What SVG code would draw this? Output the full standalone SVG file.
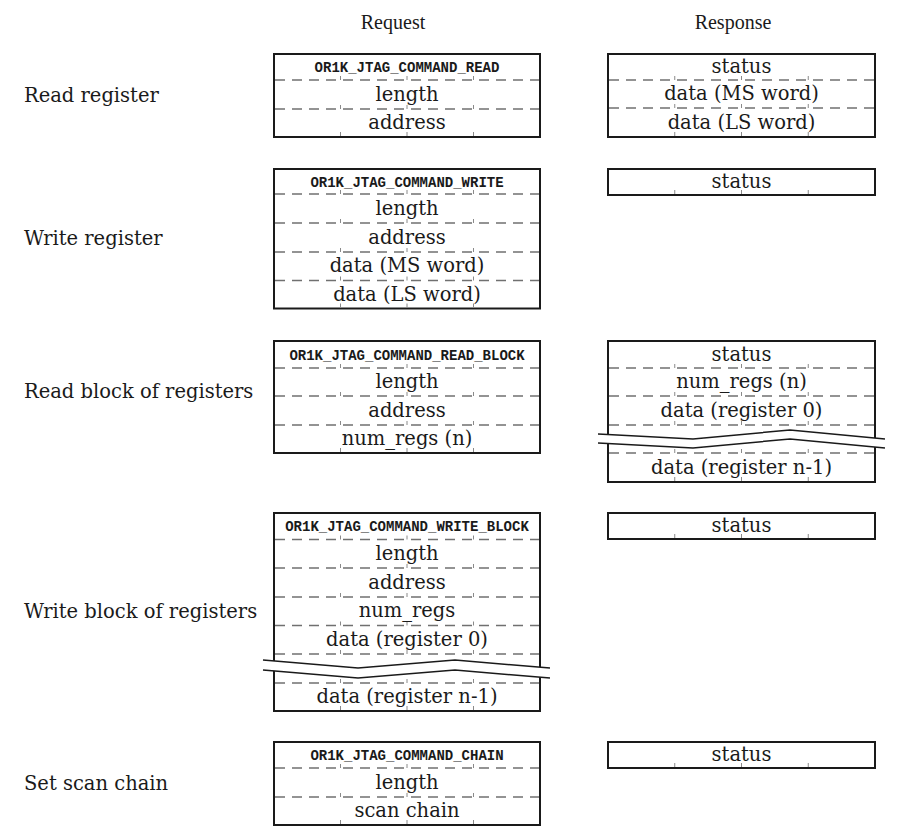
<svg xmlns="http://www.w3.org/2000/svg" width="908" height="839" viewBox="0 0 908 839">
<style>
.bg{fill:#fff}
.box{fill:#fff;stroke:#1a1a1a;stroke-width:2}
.dash{fill:none;stroke:#707070;stroke-width:1.3;stroke-dasharray:10 7}
.tick{fill:none;stroke:#8a8a8a;stroke-width:1}
.t{font-family:"DejaVu Serif",serif;font-size:19.5px;fill:#1a1a1a;text-anchor:middle}
.m{font-family:"Liberation Mono",monospace;font-weight:bold;font-size:14px;fill:#1a1a1a;text-anchor:middle}
.lbl{font-family:"DejaVu Serif",serif;font-size:19.5px;fill:#1a1a1a}
.hd{font-family:"Liberation Serif",serif;font-size:20px;fill:#1a1a1a;text-anchor:middle}
.band{fill:#fff;stroke:none}
.brk{fill:none;stroke:#1a1a1a;stroke-width:1.5}
</style>
<rect class="bg" x="0" y="0" width="908" height="839"/>

<g id="headings">
<text class="hd" x="393" y="29">Request</text>
<text class="hd" x="733" y="29">Response</text>
</g>

<g id="labels">
<text class="lbl" x="24" y="102">Read register</text>
<text class="lbl" x="24" y="245">Write register</text>
<text class="lbl" x="24" y="398">Read block of registers</text>
<text class="lbl" x="24" y="618">Write block of registers</text>
<text class="lbl" x="24" y="790">Set scan chain</text>
</g>

<!-- Read register -->
<g id="req-read">
<rect class="box" x="274" y="54" width="266" height="83"/>
<path class="dash" d="M275 80H539M275 109H539"/>
<path class="tick" d="M340.5 76V80M407 76V80M473.5 76V80M340.5 105V109M407 105V109M473.5 105V109M340.5 132V136M407 132V136M473.5 132V136"/>
<text class="m" x="407" y="72">OR1K_JTAG_COMMAND_READ</text>
<text class="t" x="407" y="100.5">length</text>
<text class="t" x="407" y="129">address</text>
</g>
<g id="resp-read">
<rect class="box" x="608" y="54" width="267" height="83"/>
<path class="dash" d="M609 80H874M609 108H874"/>
<path class="tick" d="M674.75 76V80M741.5 76V80M808.25 76V80M674.75 104V108M741.5 104V108M808.25 104V108M674.75 132V136M741.5 132V136M808.25 132V136"/>
<text class="t" x="741.5" y="73">status</text>
<text class="t" x="741.5" y="100">data (MS word)</text>
<text class="t" x="741.5" y="128.5">data (LS word)</text>
</g>

<!-- Write register -->
<g id="req-write">
<rect class="box" x="274" y="169" width="266" height="139.5"/>
<path class="dash" d="M275 194H539M275 223H539M275 252H539M275 280.5H539"/>
<path class="tick" d="M340.5 190V194M407 190V194M473.5 190V194M340.5 219V223M407 219V223M473.5 219V223M340.5 248V252M407 248V252M473.5 248V252M340.5 276.5V280.5M407 276.5V280.5M473.5 276.5V280.5M340.5 303.5V307.5M407 303.5V307.5M473.5 303.5V307.5"/>
<text class="m" x="407" y="186.5">OR1K_JTAG_COMMAND_WRITE</text>
<text class="t" x="407" y="214.5">length</text>
<text class="t" x="407" y="243.5">address</text>
<text class="t" x="407" y="272">data (MS word)</text>
<text class="t" x="407" y="300.5">data (LS word)</text>
</g>
<g id="resp-write">
<rect class="box" x="608" y="169" width="267" height="26"/>
<path class="tick" d="M674.75 190V194M741.5 190V194M808.25 190V194"/>
<text class="t" x="741.5" y="188">status</text>
</g>

<!-- Read block -->
<g id="req-read-block">
<rect class="box" x="274" y="341" width="266" height="112"/>
<path class="dash" d="M275 368H539M275 396H539M275 425H539"/>
<path class="tick" d="M340.5 364V368M407 364V368M473.5 364V368M340.5 392V396M407 392V396M473.5 392V396M340.5 421V425M407 421V425M473.5 421V425M340.5 448V452M407 448V452M473.5 448V452"/>
<text class="m" x="407" y="359.5">OR1K_JTAG_COMMAND_READ_BLOCK</text>
<text class="t" x="407" y="388">length</text>
<text class="t" x="407" y="416.5">address</text>
<text class="t" x="407" y="445">num_regs (n)</text>
</g>
<g id="resp-read-block">
<rect class="box" x="608" y="341" width="267" height="141"/>
<path class="dash" d="M609 368H874M609 396H874M609 425H874M609 453H874"/>
<path class="tick" d="M674.75 364V368M741.5 364V368M808.25 364V368M674.75 392V396M741.5 392V396M808.25 392V396M674.75 421V425M741.5 421V425M808.25 421V425M674.75 449V453M741.5 449V453M808.25 449V453M674.75 477V481M741.5 477V481M808.25 477V481"/>
<polygon class="band" points="598,434 693,439 790,430 885,439 885,448 790,439 693,448 598,443"/>
<polyline class="brk" points="598,434 693,439 790,430 885,439"/>
<polyline class="brk" points="598,443 693,448 790,439 885,448"/>
<text class="t" x="741.5" y="360.5">status</text>
<text class="t" x="741.5" y="388">num_regs (n)</text>
<text class="t" x="741.5" y="416.5">data (register 0)</text>
<text class="t" x="741.5" y="473.5">data (register n-1)</text>
</g>

<!-- Write block -->
<g id="req-write-block">
<rect class="box" x="274" y="513" width="266" height="198"/>
<path class="dash" d="M275 539.5H539M275 568H539M275 597H539M275 625.5H539M275 654H539M275 683H539"/>
<path class="tick" d="M340.5 535.5V539.5M407 535.5V539.5M473.5 535.5V539.5M340.5 564V568M407 564V568M473.5 564V568M340.5 593V597M407 593V597M473.5 593V597M340.5 621.5V625.5M407 621.5V625.5M473.5 621.5V625.5M340.5 650V654M407 650V654M473.5 650V654M340.5 679V683M407 679V683M473.5 679V683M340.5 706V710M407 706V710M473.5 706V710"/>
<polygon class="band" points="263,660 358,668 455,660 550,668 550,678 455,670 358,678 263,670"/>
<polyline class="brk" points="263,660 358,668 455,660 550,668"/>
<polyline class="brk" points="263,670 358,678 455,670 550,678"/>
<text class="m" x="407" y="531">OR1K_JTAG_COMMAND_WRITE_BLOCK</text>
<text class="t" x="407" y="560">length</text>
<text class="t" x="407" y="588.5">address</text>
<text class="t" x="407" y="617">num_regs</text>
<text class="t" x="407" y="646">data (register 0)</text>
<text class="t" x="407" y="703">data (register n-1)</text>
</g>
<g id="resp-write-block">
<rect class="box" x="608" y="513" width="267" height="26"/>
<path class="tick" d="M674.75 534V538M741.5 534V538M808.25 534V538"/>
<text class="t" x="741.5" y="532">status</text>
</g>

<!-- Set scan chain -->
<g id="req-chain">
<rect class="box" x="274" y="742" width="266" height="83"/>
<path class="dash" d="M275 768H539M275 797H539"/>
<path class="tick" d="M340.5 764V768M407 764V768M473.5 764V768M340.5 793V797M407 793V797M473.5 793V797M340.5 820V824M407 820V824M473.5 820V824"/>
<text class="m" x="407" y="760">OR1K_JTAG_COMMAND_CHAIN</text>
<text class="t" x="407" y="788.5">length</text>
<text class="t" x="407" y="817">scan chain</text>
</g>
<g id="resp-chain">
<rect class="box" x="608" y="742" width="267" height="26"/>
<path class="tick" d="M674.75 763V767M741.5 763V767M808.25 763V767"/>
<text class="t" x="741.5" y="761">status</text>
</g>
</svg>
